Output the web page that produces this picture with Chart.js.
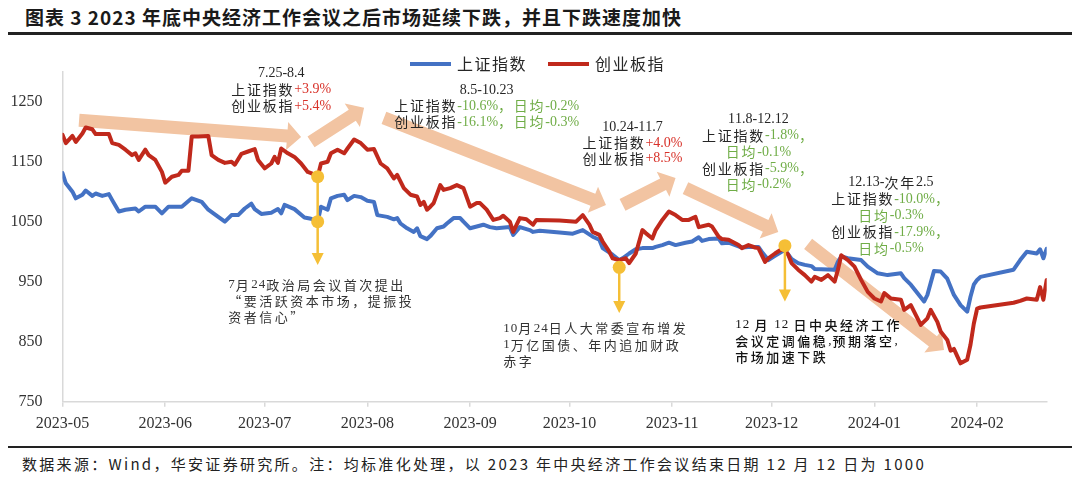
<!DOCTYPE html>
<html>
<head>
<meta charset="utf-8">
<script src="https://cdn.jsdelivr.net/npm/chart.js@4.4.0/dist/chart.umd.min.js"></script>
<style>
  html, body { margin: 0; padding: 0; background: #fff; }
  body { width: 1080px; height: 478px; position: relative; overflow: hidden; font-family: 'Noto Sans CJK SC', sans-serif; }
  #title { position: absolute; left: 25px; top: 5px; font-size: 19px; font-weight: bold; letter-spacing: 1px; color: #1a1a1a; white-space: nowrap; line-height: 24px; }
  #rule-top { position: absolute; left: 8px; top: 32px; width: 1064px; height: 3px; background: #222; }
  #rule-bottom { position: absolute; left: 8px; top: 446px; width: 1064px; height: 2px; background: #222; }
  #source { position: absolute; left: 22px; top: 453px; font-size: 15px; letter-spacing: 2.3px; color: #222; white-space: nowrap; line-height: 22px; }
  #wrap { position: absolute; left: 0; top: 36px; width: 1080px; height: 410px; }
</style>
</head>
<body>
<div id="title">图表 3 2023 年底中央经济工作会议之后市场延续下跌，并且下跌速度加快</div>
<div id="rule-top"></div>
<div id="wrap"><canvas id="chart" width="1080" height="410"></canvas></div>
<div id="rule-bottom"></div>
<div id="source">数据来源：Wind，华安证券研究所。注：均标准化处理，以 2023 年中央经济工作会议结束日期 12 月 12 日为 1000</div>

<script>
// x axis runs in calendar days from the first data date
const BASE = Date.UTC(2023, 4, 8);
function dayOf(s) {
    const [y, m, d] = s.split('-').map(Number);
    return (Date.UTC(y, m - 1, d) - BASE) / 86400000;
}

const xTickLabels = ['2023-05', '2023-06', '2023-07', '2023-08', '2023-09', '2023-10', '2023-11', '2023-12', '2024-01', '2024-02'];
const xTickDates = ['2023-05-08', '2023-06-08', '2023-07-08', '2023-08-08', '2023-09-08', '2023-10-08', '2023-11-08', '2023-12-08', '2024-01-08', '2024-02-08'];
const yTicks = [750, 850, 950, 1050, 1150, 1250];

// 上证指数 (normalised, 2023-12-12 = 1000)
const szDates = [
    '2023-05-08', '2023-05-09', '2023-05-11', '2023-05-12', '2023-05-14', '2023-05-15', '2023-05-17', '2023-05-18', '2023-05-20', '2023-05-22', '2023-05-23', '2023-05-25', '2023-05-27', '2023-05-30', '2023-05-31',
    '2023-06-02', '2023-06-05', '2023-06-07', '2023-06-09', '2023-06-13', '2023-06-16', '2023-06-19', '2023-06-21', '2023-06-24', '2023-06-26', '2023-06-28', '2023-06-30',
    '2023-07-02', '2023-07-04', '2023-07-05', '2023-07-07', '2023-07-10', '2023-07-12', '2023-07-13', '2023-07-14', '2023-07-17', '2023-07-20', '2023-07-22', '2023-07-24', '2023-07-25', '2023-07-27', '2023-07-28', '2023-07-30',
    '2023-08-01', '2023-08-02', '2023-08-04', '2023-08-06', '2023-08-08', '2023-08-10', '2023-08-11', '2023-08-14', '2023-08-16', '2023-08-17', '2023-08-18', '2023-08-20', '2023-08-22', '2023-08-23', '2023-08-24', '2023-08-26', '2023-08-27', '2023-08-29', '2023-08-31',
    '2023-09-01', '2023-09-03', '2023-09-05', '2023-09-06', '2023-09-08', '2023-09-10', '2023-09-12', '2023-09-14', '2023-09-16', '2023-09-20', '2023-09-21', '2023-09-23', '2023-09-26', '2023-09-27', '2023-09-29',
    '2023-10-05', '2023-10-09', '2023-10-12', '2023-10-15', '2023-10-17', '2023-10-18', '2023-10-21', '2023-10-23', '2023-10-24', '2023-10-26', '2023-10-28', '2023-10-30',
    '2023-11-02', '2023-11-03', '2023-11-05', '2023-11-07', '2023-11-09', '2023-11-12', '2023-11-14', '2023-11-16', '2023-11-17', '2023-11-19', '2023-11-22', '2023-11-23', '2023-11-25', '2023-11-27', '2023-11-29',
    '2023-12-01', '2023-12-04', '2023-12-05', '2023-12-07', '2023-12-09', '2023-12-11', '2023-12-12', '2023-12-14', '2023-12-16', '2023-12-18', '2023-12-20', '2023-12-21', '2023-12-27', '2023-12-28', '2023-12-29', '2023-12-31',
    '2024-01-04', '2024-01-06', '2024-01-09', '2024-01-12', '2024-01-16', '2024-01-17', '2024-01-19', '2024-01-23', '2024-01-24', '2024-01-26', '2024-01-28', '2024-01-29', '2024-01-30',
    '2024-02-01', '2024-02-03', '2024-02-05', '2024-02-06', '2024-02-07', '2024-02-08', '2024-02-09', '2024-02-19', '2024-02-21', '2024-02-23', '2024-02-26', '2024-02-27', '2024-02-28', '2024-02-29'
];
const szValues = [
    1131, 1114, 1100, 1089, 1095, 1102, 1093, 1097, 1093, 1096, 1086, 1067, 1070, 1072, 1067,
    1075, 1075, 1064, 1075, 1075, 1089, 1083, 1070, 1058, 1050, 1061, 1061,
    1072, 1080, 1071, 1063, 1065, 1071, 1064, 1078, 1071, 1057, 1055, 1050, 1075, 1070, 1089, 1093,
    1095, 1086, 1093, 1091, 1085, 1083, 1061, 1058, 1054, 1056, 1047, 1039, 1033, 1039, 1026, 1021, 1026, 1039, 1042,
    1047, 1056, 1056, 1050, 1039, 1042, 1045, 1041, 1039, 1041, 1028, 1041, 1036, 1033, 1035,
    1032, 1030, 1036, 1025, 1020, 1006, 995, 986, 989, 997, 1004, 1006,
    1006, 1008, 1011, 1015, 1011, 1015, 1017, 1024, 1018, 1021, 1022, 1014, 1015, 1011, 1007,
    1008, 1008, 1000, 986, 993, 1000, 1003, 988, 981, 978, 976, 971, 970, 983, 992, 989,
    986, 975, 964, 961, 964, 956, 945, 917, 928, 968, 967, 961, 955,
    928, 911, 900, 925, 945, 953, 958, 970, 986, 1000, 997, 1004, 989, 1005
];

// 创业板指 (normalised, 2023-12-12 = 1000)
const cyDates = [
    '2023-05-08', '2023-05-09', '2023-05-11', '2023-05-12', '2023-05-14', '2023-05-15', '2023-05-17', '2023-05-18', '2023-05-22', '2023-05-23', '2023-05-25', '2023-05-27', '2023-05-29', '2023-05-30', '2023-05-31',
    '2023-06-02', '2023-06-03', '2023-06-05', '2023-06-07', '2023-06-08', '2023-06-10', '2023-06-12', '2023-06-13', '2023-06-15', '2023-06-16', '2023-06-18', '2023-06-21', '2023-06-22', '2023-06-24', '2023-06-26', '2023-06-28', '2023-06-29',
    '2023-07-01', '2023-07-03', '2023-07-05', '2023-07-06', '2023-07-08', '2023-07-10', '2023-07-11', '2023-07-12', '2023-07-13', '2023-07-15', '2023-07-17', '2023-07-19', '2023-07-21', '2023-07-22', '2023-07-24', '2023-07-25', '2023-07-27', '2023-07-28', '2023-07-30',
    '2023-08-01', '2023-08-02', '2023-08-04', '2023-08-06', '2023-08-08', '2023-08-10', '2023-08-12', '2023-08-14', '2023-08-16', '2023-08-17', '2023-08-19', '2023-08-21', '2023-08-23', '2023-08-24', '2023-08-25', '2023-08-26', '2023-08-27', '2023-08-28', '2023-08-30', '2023-08-31',
    '2023-09-02', '2023-09-04', '2023-09-06', '2023-09-08', '2023-09-10', '2023-09-11', '2023-09-13', '2023-09-15', '2023-09-17', '2023-09-18', '2023-09-20', '2023-09-21', '2023-09-23', '2023-09-25', '2023-09-27', '2023-09-28',
    '2023-10-05', '2023-10-10', '2023-10-12', '2023-10-14', '2023-10-15', '2023-10-17', '2023-10-18', '2023-10-20', '2023-10-21', '2023-10-23', '2023-10-25', '2023-10-26', '2023-10-28', '2023-10-30', '2023-10-31',
    '2023-11-02', '2023-11-03', '2023-11-05', '2023-11-07', '2023-11-09', '2023-11-11', '2023-11-13', '2023-11-15', '2023-11-16', '2023-11-19', '2023-11-20', '2023-11-22', '2023-11-23', '2023-11-25', '2023-11-27', '2023-11-28', '2023-11-29',
    '2023-12-01', '2023-12-03', '2023-12-04', '2023-12-06', '2023-12-07', '2023-12-09', '2023-12-11', '2023-12-12', '2023-12-13', '2023-12-14', '2023-12-16', '2023-12-18', '2023-12-20', '2023-12-21', '2023-12-23', '2023-12-25', '2023-12-27', '2023-12-28', '2023-12-29', '2023-12-31',
    '2024-01-02', '2024-01-04', '2024-01-06', '2024-01-08', '2024-01-10', '2024-01-11', '2024-01-13', '2024-01-16', '2024-01-17', '2024-01-19', '2024-01-22', '2024-01-24', '2024-01-25', '2024-01-27', '2024-01-28', '2024-01-30', '2024-01-31',
    '2024-02-01', '2024-02-03', '2024-02-05', '2024-02-06', '2024-02-07', '2024-02-08', '2024-02-09', '2024-02-19', '2024-02-21', '2024-02-23', '2024-02-26', '2024-02-27', '2024-02-28', '2024-02-29'
];
const cyValues = [
    1195, 1181, 1193, 1183, 1197, 1207, 1204, 1196, 1196, 1181, 1178, 1170, 1161, 1164, 1153,
    1170, 1161, 1153, 1133, 1115, 1125, 1128, 1135, 1135, 1192, 1192, 1193, 1161, 1153, 1148, 1150, 1145,
    1163, 1167, 1171, 1153, 1139, 1147, 1158, 1148, 1172, 1164, 1158, 1147, 1133, 1131, 1125, 1147, 1150, 1164, 1170,
    1164, 1172, 1187, 1181, 1170, 1171, 1147, 1139, 1122, 1128, 1106, 1095, 1092, 1078, 1083, 1070, 1075, 1081, 1111, 1103,
    1106, 1111, 1106, 1075, 1081, 1081, 1070, 1053, 1056, 1060, 1050, 1033, 1056, 1054, 1045, 1053,
    1052, 1050, 1061, 1045, 1033, 1028, 1017, 1000, 989, 986, 989, 981, 997, 1036, 1031,
    1022, 1036, 1053, 1067, 1061, 1053, 1053, 1058, 1041, 1045, 1042, 1025, 1021, 1020, 1014, 1011, 1006,
    1011, 1007, 1006, 983, 989, 997, 1004, 1002, 995, 981, 970, 961, 950, 958, 953, 961, 950, 970, 994, 986,
    975, 953, 933, 922, 917, 931, 922, 920, 903, 911, 878, 889, 903, 883, 867, 853, 835,
    838, 814, 820, 845, 880, 905, 907, 915, 918, 922, 920, 941, 920, 953
];

// yellow event markers: dots, and arrows pointing down to the notes
const eventDotDates = ['2023-07-24', '2023-07-24', '2023-10-23', '2023-12-12'];
const eventDotValues = [1125, 1050, 974, 1010];
const eventArrowDates = ['2023-07-24', '2023-10-23', '2023-12-12'];
const eventArrowFrom = [1125, 974, 1010];
const eventArrowTo = [978, 898, 917];

// big trend arrows, [date, value] start and tip
const trendArrows = [
    [['2023-05-13', 1219], ['2023-07-19', 1191]],
    [['2023-07-22', 1183], ['2023-08-07', 1240]],
    [['2023-08-13', 1223], ['2023-10-19', 1078]],
    [['2023-10-24', 1078], ['2023-11-09', 1123]],
    [['2023-11-12', 1106], ['2023-12-10', 1033]],
    [['2023-12-19', 1013], ['2024-01-29', 836]]
];

const BLUE = '#4472C4';
const RED = '#C0291C';
const YELLOW = '#F5BF36';
const PEACH = '#F2C4A2';
const GRID = '#D9D9D9';
const K = '#262626', R = '#D8322A', G = '#70AD47';

const periodNotes = [
    { date: '2023-07-13', value: 1297, lh: 16.3, lines: [
        [['7.25-8.4', K]], [['上证指数', K], ['+3.9%', R]], [['创业板指', K], ['+5.4%', R]]] },
    { date: '2023-09-13', value: 1269.5, lh: 16, lines: [
        [['8.5-10.23', K]], [['上证指数', K], ['-10.6%，日均-0.2%', G]], [['创业板指', K], ['-16.1%，日均-0.3%', G]]] },
    { date: '2023-10-27', value: 1207, lh: 15.5, lines: [
        [['10.24-11.7', K]], [['上证指数', K], ['+4.0%', R]], [['创业板指', K], ['+8.5%', R]]] },
    { date: '2023-12-04', value: 1221, lh: 16.4, lines: [
        [['11.8-12.12', K]], [['上证指数', K], ['-1.8%，', G]], [['日均-0.1%', G]], [['创业板指', K], ['-5.9%，', G]], [['日均-0.2%', G]]] },
    { date: '2024-01-13', value: 1115, lh: 16.4, lines: [
        [['12.13-次年2.5', K]], [['上证指数', K], ['-10.0%，', G]], [['日均-0.3%', G]], [['创业板指', K], ['-17.9%，', G]], [['日均-0.5%', G]]] }
];

const eventNotes = [
    { date: '2023-06-27', value: 944.5, lh: 16, color: '#333', weight: 'normal',
      lines: ['7月24政治局会议首次提出', '“要活跃资本市场，提振投', '资者信心”'] },
    { date: '2023-09-18', value: 872, lh: 16.2, color: '#333', weight: 'normal',
      lines: ['10月24日人大常委宣布增发', '1万亿国债、年内追加财政', '赤字'] },
    { date: '2023-11-27', value: 878, lh: 16, color: '#111', weight: '500',
      lines: ['12 月 12 日中央经济工作', '会议定调偏稳,预期落空,', '市场加速下跌'] }
];

const toPoints = (dates, values) => dates.map((d, i) => ({ x: dayOf(d), y: values[i] }));

function isWide(ch) {
    return ch.charCodeAt(0) > 0x2000;
}

// draws text char by char so CJK glyphs can get extra tracking
function drawRuns(ctx, runs, x, y, align, st) {
    const fontFor = ch => isWide(ch) ? st.cjk : st.lat;
    const step = ch => {
        ctx.font = fontFor(ch);
        return ctx.measureText(ch).width + (isWide(ch) ? st.wideGap : st.narrowGap);
    };
    let w = 0;
    runs.forEach(([t]) => { for (const ch of t) w += step(ch); });
    let cx = align === 'center' ? x - w / 2 : x;
    ctx.textBaseline = 'middle';
    ctx.textAlign = 'left';
    runs.forEach(([t, c]) => {
        for (const ch of t) {
            ctx.font = fontFor(ch);
            ctx.fillStyle = c;
            ctx.fillText(ch, cx, y);
            cx += step(ch);
        }
    });
}

function drawArrow(ctx, x1, y1, x2, y2, body, headW, headL, color) {
    const len = Math.hypot(x2 - x1, y2 - y1);
    const ux = (x2 - x1) / len, uy = (y2 - y1) / len;
    const nx = -uy, ny = ux;
    const bx = x2 - ux * headL, by = y2 - uy * headL;
    ctx.beginPath();
    ctx.moveTo(x1 + nx * body / 2, y1 + ny * body / 2);
    ctx.lineTo(bx + nx * body / 2, by + ny * body / 2);
    ctx.lineTo(bx + nx * headW / 2, by + ny * headW / 2);
    ctx.lineTo(x2, y2);
    ctx.lineTo(bx - nx * headW / 2, by - ny * headW / 2);
    ctx.lineTo(bx - nx * body / 2, by - ny * body / 2);
    ctx.lineTo(x1 - nx * body / 2, y1 - ny * body / 2);
    ctx.closePath();
    ctx.fillStyle = color;
    ctx.fill();
}

const decorPlugin = {
    id: 'decor',
    beforeDatasetsDraw(chart) {
        const { ctx, scales: { x, y } } = chart;
        ctx.save();
        trendArrows.forEach(([a, b]) => {
            drawArrow(ctx,
                x.getPixelForValue(dayOf(a[0])), y.getPixelForValue(a[1]),
                x.getPixelForValue(dayOf(b[0])), y.getPixelForValue(b[1]),
                13, 28, 14, PEACH);
        });
        ctx.restore();
    },
    afterDatasetsDraw(chart) {
        const { ctx, scales: { x, y } } = chart;
        ctx.save();

        // yellow drop lines with arrow heads
        eventArrowDates.forEach((d, i) => {
            const px = x.getPixelForValue(dayOf(d));
            const y1 = y.getPixelForValue(eventArrowFrom[i]);
            const y2 = y.getPixelForValue(eventArrowTo[i]);
            ctx.strokeStyle = YELLOW;
            ctx.lineWidth = 2.5;
            ctx.beginPath();
            ctx.moveTo(px, y1);
            ctx.lineTo(px, y2 - 10);
            ctx.stroke();
            ctx.fillStyle = YELLOW;
            ctx.beginPath();
            ctx.moveTo(px - 6, y2 - 12);
            ctx.lineTo(px + 6, y2 - 12);
            ctx.lineTo(px, y2);
            ctx.closePath();
            ctx.fill();
        });

        // period notes
        const topStyle = {
            lat: "14px 'Liberation Serif'", cjk: "14px 'Noto Sans CJK SC'",
            wideGap: 1.75, narrowGap: 0
        };
        periodNotes.forEach(n => {
            const cx = x.getPixelForValue(dayOf(n.date));
            const y0 = y.getPixelForValue(n.value);
            n.lines.forEach((runs, i) => drawRuns(ctx, runs, cx, y0 + i * n.lh, 'center', topStyle));
        });

        // event notes
        eventNotes.forEach(n => {
            const st = {
                lat: n.weight + " 13px 'Liberation Serif'", cjk: n.weight + " 13px 'Noto Sans CJK SC'",
                wideGap: 2.5, narrowGap: 1
            };
            const lx = x.getPixelForValue(dayOf(n.date));
            const y0 = y.getPixelForValue(n.value);
            n.lines.forEach((t, i) => drawRuns(ctx, [[t, n.color]], lx, y0 + i * n.lh, 'left', st));
        });

        // legend
        const legendStyle = { lat: "16px 'Noto Sans CJK SC'", cjk: "16px 'Noto Sans CJK SC'", wideGap: 1.5, narrowGap: 0 };
        [[BLUE, '上证指数', 410], [RED, '创业板指', 548]].forEach(([c, t, lx]) => {
            ctx.strokeStyle = c;
            ctx.lineWidth = 4;
            ctx.beginPath();
            ctx.moveTo(lx, 28);
            ctx.lineTo(lx + 41, 28);
            ctx.stroke();
            drawRuns(ctx, [[t, '#262626']], lx + 47, 28, 'left', legendStyle);
        });
        ctx.restore();
    }
};

const tickFont = { family: 'Liberation Serif', size: 16 };

new Chart(document.getElementById('chart'), {
    type: 'line',
    data: {
        datasets: [
            {
                label: '上证指数',
                data: toPoints(szDates, szValues),
                borderColor: BLUE,
                borderWidth: 4,
                pointRadius: 0,
                tension: 0,
                borderJoinStyle: 'round',
                borderCapStyle: 'round',
                order: 2
            },
            {
                label: '创业板指',
                data: toPoints(cyDates, cyValues),
                borderColor: RED,
                borderWidth: 4,
                pointRadius: 0,
                tension: 0,
                borderJoinStyle: 'round',
                borderCapStyle: 'round',
                order: 1
            },
            {
                type: 'scatter',
                label: 'events',
                data: toPoints(eventDotDates, eventDotValues),
                backgroundColor: YELLOW,
                borderWidth: 0,
                pointRadius: 6.5,
                order: 0
            }
        ]
    },
    options: {
        responsive: false,
        animation: false,
        devicePixelRatio: 1,
        layout: { padding: { top: 35.7, right: 33.3, left: 0, bottom: 0 } },
        plugins: {
            legend: { display: false },
            tooltip: { enabled: false }
        },
        scales: {
            x: {
                type: 'linear',
                min: 0,
                max: dayOf(szDates[szDates.length - 1]),
                afterBuildTicks: s => { s.ticks = xTickDates.map(d => ({ value: dayOf(d) })); },
                afterFit: s => { s.height = 44.3; },
                ticks: {
                    autoSkip: false,
                    maxRotation: 0,
                    padding: 7,
                    font: tickFont,
                    color: '#333',
                    callback: (v, i) => xTickLabels[i]
                },
                grid: { drawOnChartArea: false, tickLength: 5, color: GRID, lineWidth: 1.5 },
                border: { color: GRID, width: 1.5 }
            },
            y: {
                type: 'linear',
                min: 750,
                max: 1300,
                afterBuildTicks: s => { s.ticks = yTicks.map(v => ({ value: v })); },
                afterFit: s => { s.width = 62.5; },
                ticks: { padding: 12, font: tickFont, color: '#333', callback: v => String(v) },
                grid: { display: false },
                border: { color: GRID, width: 1.5 }
            }
        }
    },
    plugins: [decorPlugin]
});
</script>
</body>
</html>
